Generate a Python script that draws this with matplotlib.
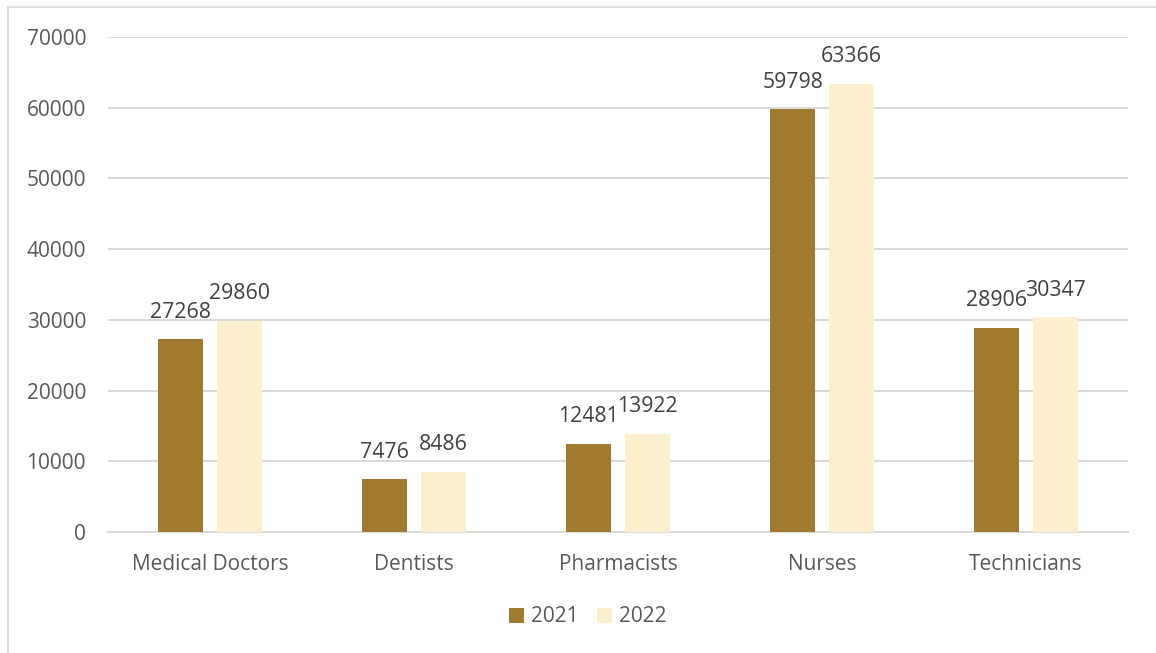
import matplotlib
matplotlib.use("Agg")
import matplotlib.pyplot as plt
from matplotlib.lines import Line2D
import numpy as np

categories = ["Medical Doctors", "Dentists", "Pharmacists", "Nurses", "Technicians"]
years = ["2021", "2022"]
values_2021 = [27268, 7476, 12481, 59798, 28906]
values_2022 = [29860, 8486, 13922, 63366, 30347]
y_ticks = [0, 10000, 20000, 30000, 40000, 50000, 60000, 70000]

colors = ["#A07A2E", "#FCEFCE"]
tick_color = "#595959"
label_color = "#404040"
grid_color = "#D9D9D9"

plt.rcParams["font.family"] = ["Open Sans", "DejaVu Sans"]

fig = plt.figure(figsize=(11.56, 6.53), dpi=100)
ax = fig.add_axes([108 / 1156, 1 - 532 / 653, 1020 / 1156, 495 / 653])

x = np.arange(len(categories))
bar_w = 0.22
offset = 0.143
series = [values_2021, values_2022]
for i, (vals, col, yr) in enumerate(zip(series, colors, years)):
    pos = x + (i - 0.5) * 2 * offset
    ax.bar(pos, vals, width=bar_w, color=col, label=yr, zorder=3)
    for px, v in zip(pos, vals):
        ax.annotate(str(v), (px, v), xytext=(0, 19.5), textcoords="offset points",
                    ha="center", va="center", fontsize=15.3, color=label_color, zorder=4)

ax.set_xlim(-0.5, len(categories) - 0.5)
ax.set_ylim(0, 70000)
ax.set_yticks(y_ticks)
ax.set_yticklabels([str(t) for t in y_ticks])
ax.set_xticks(x)
ax.set_xticklabels(categories)
ax.tick_params(axis="both", length=0, labelsize=15, colors=tick_color)
ax.tick_params(axis="y", pad=15.8)
ax.tick_params(axis="x", pad=15.5)
ax.grid(axis="y", color=grid_color, linewidth=1.4, zorder=0)
for s in ["top", "right", "left"]:
    ax.spines[s].set_visible(False)
ax.spines["bottom"].set_color(grid_color)
ax.spines["bottom"].set_linewidth(1.4)

leg = fig.legend(loc="center", bbox_to_anchor=(588 / 1156, 1 - 617 / 653), ncol=2,
                 frameon=False, fontsize=15, handlelength=0.7, handleheight=0.7,
                 handletextpad=0.35, columnspacing=0.9)
for t in leg.get_texts():
    t.set_color(tick_color)

# thin frame around the chart area
fig.add_artist(Line2D([8 / 1156, 8 / 1156], [0, 1 - 7 / 653], transform=fig.transFigure,
                      color=grid_color, linewidth=1.2))
fig.add_artist(Line2D([8 / 1156, 1], [1 - 7 / 653, 1 - 7 / 653], transform=fig.transFigure,
                      color=grid_color, linewidth=1.2))

fig.savefig("out.png", dpi=100, facecolor="white")
